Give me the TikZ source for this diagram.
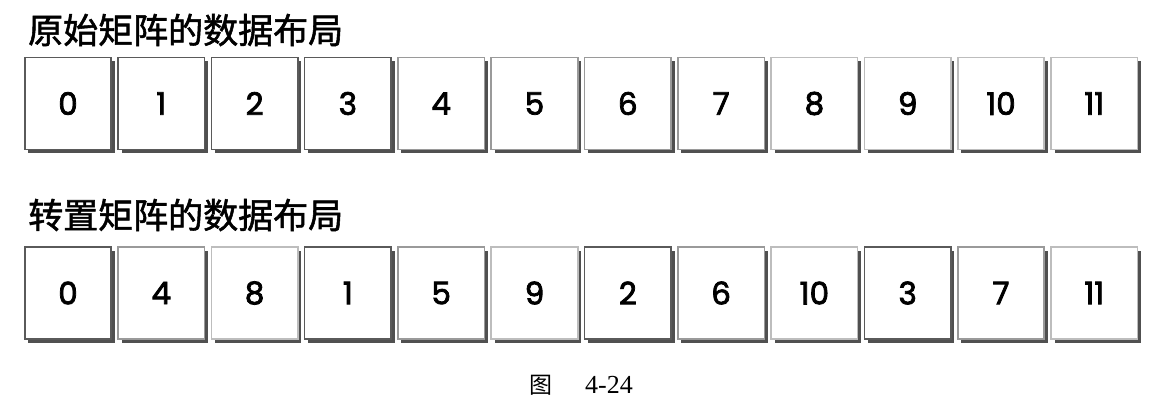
\documentclass[tikz,border=0pt]{standalone}
\usepackage{fontspec}
\newfontfamily\cjk{Noto Sans CJK SC}
\newfontfamily\cjktitle{Noto Sans CJK SC}[FakeBold=1.5]
\newfontfamily\digits{Poppins}[FakeBold=2.5]
\newfontfamily\capserif{Liberation Serif}
\usetikzlibrary{shadows}
\definecolor{bdark}{HTML}{5A5A5A}
\definecolor{bmid}{HTML}{9A9A9A}
\definecolor{blight}{HTML}{BDBDBD}
\definecolor{shad}{HTML}{505050}
\begin{document}
\begin{tikzpicture}[x=1pt,y=-1pt,
  cell/.style={draw=#1, line width=1.6pt, fill=white, minimum width=86.5pt, minimum height=92pt,
    inner sep=0pt, font=\digits\fontsize{31}{36}\selectfont,
    drop shadow={shadow xshift=3.5pt, shadow yshift=-3.5pt, fill=shad, opacity=1}},
  title/.style={anchor=west, inner sep=0pt, font=\cjktitle\fontsize{35}{40}\selectfont}]
\useasboundingbox (0,0) rectangle (1171,404);
\node[title] (t1) at (28,30) {原始矩阵的数据布局};
\node[title] (t2) at (28,215) {转置矩阵的数据布局};
\foreach \v [count=\i from 0] in {0,1,2,3,4,5,6,7,8,9,10,11} {
  \pgfmathtruncatemacro{\g}{int(\v/4)}
  \ifcase\g \def\bc{bdark}\or \def\bc{bmid}\else \def\bc{blight}\fi
  \node[cell=\bc] (a\i) at ({68+93.3*\i},103.5) {\v};
}
\foreach \v [count=\i from 0] in {0,4,8,1,5,9,2,6,10,3,7,11} {
  \pgfmathtruncatemacro{\g}{int(\v/4)}
  \ifcase\g \def\bc{bdark}\or \def\bc{bmid}\else \def\bc{blight}\fi
  \node[cell=\bc] (b\i) at ({68+93.3*\i},293) {\v};
}
\node[anchor=west, inner sep=0pt] (cap) at (529,385)
  {{\cjk\fontsize{23}{28}\selectfont 图}\hspace{33pt}{\capserif\fontsize{26}{30}\selectfont 4-24}};
\end{tikzpicture}
\end{document}
